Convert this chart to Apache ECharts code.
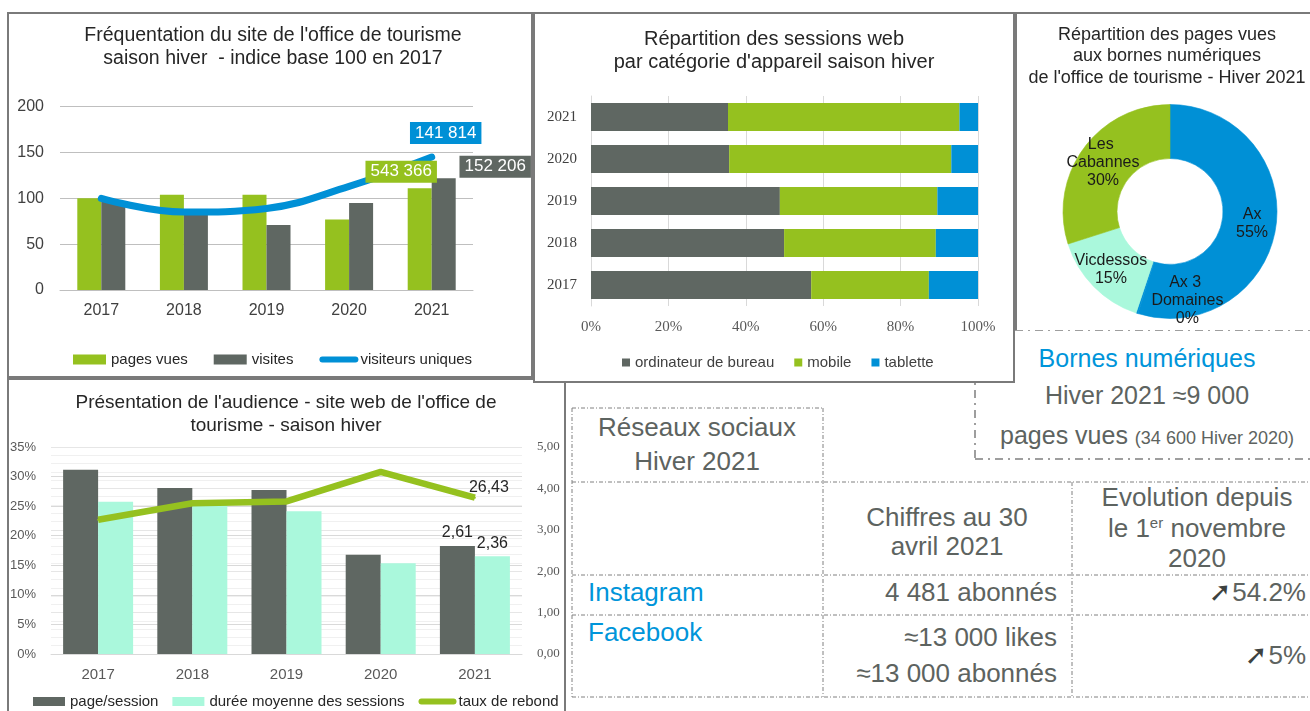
<!DOCTYPE html>
<html lang="fr">
<head>
<meta charset="utf-8">
<title>Office de tourisme - saison hiver 2021</title>
<script src="https://cdn.jsdelivr.net/npm/echarts@6/dist/echarts.min.js"></script>
<style>
  html, body { margin: 0; padding: 0; background: #fff; }
  body {
    width: 1310px; height: 711px; position: relative; overflow: hidden;
    font-family: 'Liberation Sans', Arial, sans-serif;
  }
  .panel { position: absolute; box-sizing: border-box; border: 2px solid #7a7a7a; background: #fff; }
  .chart { position: absolute; }
  .txt { position: absolute; color: #5d6360; font-size: 26px; white-space: nowrap; }
  .c { transform: translateX(-50%); text-align: center; }
  .blue { color: #0095da; }
  .arrow { font-family: 'DejaVu Sans', sans-serif; font-size: 27px; font-weight: bold; margin-right: 1px; color: #3d4240; }
  #lines { position: absolute; left: 0; top: 0; }
</style>
</head>
<body>

<svg id="lines" width="1310" height="711">
  <!-- bornes numériques : cadre tiret-point -->
  <g stroke="#7f7f7f" stroke-width="1.5" stroke-dasharray="8 5 2 5" fill="none">
    <line x1="975" y1="330" x2="1310" y2="330" />
    <line x1="975" y1="330" x2="975" y2="459" />
    <line x1="975" y1="459" x2="1310" y2="459" />
  </g>
  <!-- tableau réseaux sociaux -->
  <g stroke="#808080" stroke-width="1" stroke-dasharray="4 2 1 2" fill="none">
    <line x1="572" y1="408" x2="823" y2="408" />
    <line x1="572" y1="482" x2="1310" y2="482" />
    <line x1="572" y1="575" x2="1310" y2="575" />
    <line x1="572" y1="615" x2="1310" y2="615" />
    <line x1="572" y1="697" x2="1310" y2="697" />
    <line x1="572" y1="408" x2="572" y2="697" />
    <line x1="823" y1="408" x2="823" y2="697" />
    <line x1="1072" y1="482" x2="1072" y2="697" />
  </g>
</svg>

<div class="panel" style="left:7px;top:378px;width:559px;height:345px;"></div>
<div class="panel" style="left:7px;top:12px;width:526px;height:366px;"></div>
<div class="panel" style="left:1015px;top:12px;width:310px;height:318px;border-bottom:none;border-right:none;"></div>
<div class="panel" style="left:533px;top:12px;width:482px;height:371px;"></div>

<div id="freqChart" class="chart" style="left:7px;top:12px;width:526px;height:366px;"></div>
<div id="deviceChart" class="chart" style="left:533px;top:12px;width:482px;height:371px;"></div>
<div id="borneChart" class="chart" style="left:1015px;top:12px;width:295px;height:318px;"></div>
<div id="audienceChart" class="chart" style="left:7px;top:378px;width:559px;height:333px;"></div>

<!-- bornes numériques -->
<div class="txt c blue" style="left:1147px;top:343px;font-size:25px;line-height:30px;">Bornes numériques</div>
<div class="txt c" style="left:1147px;top:380px;font-size:25px;line-height:30px;">Hiver 2021 ≈9 000</div>
<div class="txt c" style="left:1147px;top:420px;font-size:25px;line-height:30px;">pages vues <span style="font-size:18px;">(34 600 Hiver 2020)</span></div>

<!-- réseaux sociaux -->
<div class="txt c" style="left:697px;top:410px;line-height:34px;">Réseaux sociaux<br>Hiver 2021</div>
<div class="txt c" style="left:947px;top:503px;line-height:29px;">Chiffres au 30<br>avril 2021</div>
<div class="txt c" style="left:1197px;top:482px;line-height:30.5px;">Evolution depuis<br>le 1<sup style="font-size:15px;vertical-align:9px;line-height:0;">er</sup> novembre<br>2020</div>
<div class="txt blue" style="left:588px;top:577px;line-height:30px;">Instagram</div>
<div class="txt blue" style="left:588px;top:617px;line-height:30px;">Facebook</div>
<div class="txt" style="right:253px;top:577px;line-height:30px;">4 481 abonnés</div>
<div class="txt" style="right:253px;top:622px;line-height:30px;">≈13 000 likes</div>
<div class="txt" style="right:253px;top:658px;line-height:30px;">≈13 000 abonnés</div>
<div class="txt" style="right:4px;top:577px;line-height:30px;"><span class="arrow">➚</span>54.2%</div>
<div class="txt" style="right:4px;top:640px;line-height:30px;"><span class="arrow">➚</span>5%</div>

<script>
// fréquentation du site, indice base 100 en 2017
const years = ['2017', '2018', '2019', '2020', '2021'];
const pagesVuesIdx = [100, 104, 104, 77, 111];
const visitesIdx = [97, 84, 71, 95, 122];
const visiteursIdx = [100, 85, 89, 113, 145];
const pagesVues2021 = '543 366';
const visites2021 = '152 206';
const visiteurs2021 = '141 814';

// répartition des sessions par appareil (%)
const desktopPct = [56.9, 49.9, 48.8, 35.7, 35.4];
const mobilePct = [30.4, 39.2, 40.7, 57.4, 59.8];
const tabletPct = [12.7, 10.9, 10.5, 6.9, 4.8];

// bornes numériques hiver 2021 (%), Ax 3 Domaines affiché 0% (moins de 0,5%)
const borneNames = ['Ax', 'Ax 3 Domaines', 'Vicdessos', 'Les Cabannes'];
const bornePct = [55, 0.3, 15, 30];

// audience du site web
const pageSession = [4.45, 4.01, 3.96, 2.40, 2.61];
const dureeMoyenne = [3.68, 3.60, 3.45, 2.19, 2.36];
const tauxRebond = [22.7, 25.5, 25.8, 30.8, 26.43];

const GREEN = '#95c11f';
const GREY = '#5f6762';
const BLUE = '#0090d6';
const MINT = '#aaf8dc';
const SANS = 'Liberation Sans';
const SERIF = 'Liberation Serif';
const last = years.length - 1;

const title = (x, y, text, size, lh) => ({
  type: 'text',
  x: x,
  y: y,
  style: {
    text: text,
    fill: '#262626',
    font: size + 'px "' + SANS + '"',
    lineHeight: lh,
    align: 'center',
    verticalAlign: 'top'
  }
});

const boxLabel = (text, bg, pos) => ({
  show: true,
  formatter: text,
  position: pos,
  align: 'center',
  verticalAlign: 'middle',
  backgroundColor: bg,
  color: '#fff',
  opacity: 1,
  fontFamily: SANS,
  fontSize: 17,
  padding: [3, 5, 2, 5]
});

const comma = v => v.toFixed(2).replace('.', ',');

// graphique 1 : fréquentation
const freqChart = echarts.init(document.getElementById('freqChart'));
freqChart.setOption({
  animation: false,
  graphic: [title(266, 12, "Fréquentation du site de l'office de tourisme\nsaison hiver  - indice base 100 en 2017", 19.5, 23)],
  grid: { left: 53, right: 60, top: 94.7, bottom: 88 },
  legend: {
    left: 66, top: 340, padding: 0,
    itemWidth: 33, itemHeight: 10, itemGap: 26,
    textStyle: { fontFamily: SANS, fontSize: 15, color: '#262626' },
    data: [
      { name: 'pages vues', icon: 'rect' },
      { name: 'visites', icon: 'rect' },
      { name: 'visiteurs uniques', itemStyle: { opacity: 0 }, lineStyle: { width: 6, cap: 'round' } }
    ]
  },
  xAxis: {
    type: 'category',
    data: years,
    axisTick: { show: false },
    axisLine: { lineStyle: { color: '#bfbfbf' } },
    axisLabel: { fontFamily: SANS, fontSize: 16, color: '#404040', margin: 13 }
  },
  yAxis: {
    type: 'value',
    min: 0, max: 200, interval: 50,
    axisLabel: { fontFamily: SANS, fontSize: 16, color: '#404040', margin: 16 },
    splitLine: { lineStyle: { color: '#bfbfbf' } }
  },
  series: [
    {
      name: 'pages vues', type: 'bar', barWidth: 24, barGap: '0%',
      itemStyle: { color: GREEN },
      data: pagesVuesIdx
    },
    {
      name: 'visites', type: 'bar', barWidth: 24,
      itemStyle: { color: GREY },
      data: visitesIdx
    },
    {
      name: 'visiteurs uniques', type: 'line', smooth: 0.4,
      symbol: 'circle', symbolSize: 2, z: 5,
      lineStyle: { color: BLUE, width: 7, cap: 'round' },
      itemStyle: { color: BLUE },
      data: visiteursIdx.map((v, i) => i === last
        ? { value: v, label: boxLabel(visiteurs2021, BLUE, [15, -23]) } : v)
    },
    {
      // étiquettes des barres 2021, posées au-dessus de la courbe
      name: 'etiquettes', type: 'scatter', z: 10,
      symbolSize: 1, itemStyle: { color: 'transparent', opacity: 1 },
      data: [
        { value: [years[last], pagesVuesIdx[last]], label: boxLabel(pagesVues2021, GREEN, [-30, -16]) },
        { value: [years[last], visitesIdx[last]], label: boxLabel(visites2021, GREY, [64, -11]) }
      ]
    }
  ]
});

// graphique 2 : sessions par appareil
const deviceChart = echarts.init(document.getElementById('deviceChart'));
const devSeries = (name, color, data) => ({
  name: name, type: 'bar', stack: 'total', barWidth: 28,
  itemStyle: { color: color }, data: data
});
deviceChart.setOption({
  animation: false,
  graphic: [title(241, 16, "Répartition des sessions web\npar catégorie d'appareil saison hiver", 20, 23)],
  grid: { left: 58, right: 37, top: 84, bottom: 77 },
  legend: {
    left: 89, top: 343, padding: 0,
    icon: 'rect', itemWidth: 8, itemHeight: 8, itemGap: 20,
    textStyle: { fontFamily: SANS, fontSize: 15, color: '#404040' }
  },
  xAxis: {
    type: 'value', min: 0, max: 100, interval: 20,
    axisLabel: { formatter: '{value}%', fontFamily: SERIF, fontSize: 15, color: '#595959', margin: 14 },
    splitLine: { lineStyle: { color: '#d9d9d9' } }
  },
  yAxis: {
    type: 'category', data: years,
    axisTick: { show: false },
    axisLine: { lineStyle: { color: '#d9d9d9' } },
    axisLabel: { fontFamily: SERIF, fontSize: 15, color: '#404040', margin: 14 }
  },
  series: [
    devSeries('ordinateur de bureau', GREY, desktopPct),
    devSeries('mobile', GREEN, mobilePct),
    devSeries('tablette', BLUE, tabletPct)
  ]
});

// graphique 3 : bornes numériques
const borneChart = echarts.init(document.getElementById('borneChart'));
const borneColors = [BLUE, BLUE, MINT, GREEN];
borneChart.setOption({
  animation: false,
  graphic: [title(152, 12, "Répartition des pages vues\naux bornes numériques\nde l'office de tourisme - Hiver 2021", 18, 21.5)],
  series: [{
    type: 'pie',
    center: [155, 199.5],
    radius: [53, 107],
    startAngle: 90,
    avoidLabelOverlap: false,
    minShowLabelAngle: 0,
    labelLayout: { hideOverlap: false },
    label: {
      show: true,
      position: 'inside',
      formatter: p => p.name + '\n' + Math.round(p.value) + '%',
      width: 76,
      overflow: 'break',
      fontFamily: SANS,
      fontSize: 16,
      lineHeight: 18,
      color: '#1a1a1a'
    },
    labelLine: { show: false },
    data: borneNames.map((n, i) => ({
      name: n,
      value: bornePct[i],
      itemStyle: { color: borneColors[i], borderColor: borneColors[i], borderWidth: 0.6 },
      label: i === 1 ? { show: true, offset: [43, 10] } : undefined
    }))
  }]
});

// graphique 4 : audience
const audienceChart = echarts.init(document.getElementById('audienceChart'));
const valueLabel = {
  show: true, position: 'top', formatter: p => comma(p.value),
  fontFamily: SANS, fontSize: 16, color: '#262626'
};
audienceChart.setOption({
  animation: false,
  graphic: [title(279, 14, "Présentation de l'audience - site web de l'office de\ntourisme - saison hiver", 19, 22.5)],
  grid: { left: 44, right: 44, top: 69, bottom: 57 },
  legend: {
    left: 26, top: 316, padding: 0, width: 533,
    itemWidth: 32, itemHeight: 9, itemGap: 14,
    textStyle: { fontFamily: SANS, fontSize: 15, color: '#262626' },
    data: [
      { name: 'page/session', icon: 'rect' },
      { name: 'durée moyenne des sessions', icon: 'rect' },
      { name: 'taux de rebond', itemStyle: { opacity: 0 }, lineStyle: { width: 6, cap: 'round' } }
    ]
  },
  xAxis: {
    type: 'category', data: years,
    axisTick: { show: false },
    axisLine: { lineStyle: { color: '#d9d9d9' } },
    axisLabel: { fontFamily: SANS, fontSize: 15, color: '#595959', margin: 13 }
  },
  yAxis: [
    {
      type: 'value', min: 0, max: 35, interval: 5,
      axisLabel: { formatter: '{value}%', fontFamily: SANS, fontSize: 13, color: '#595959', margin: 15 },
      splitLine: { lineStyle: { color: '#d9d9d9' } }
    },
    {
      type: 'value', min: 0, max: 5, interval: 1, position: 'right',
      axisLabel: { formatter: comma, fontFamily: SERIF, fontSize: 13, color: '#595959', margin: 15 },
      splitLine: { lineStyle: { color: '#e6e6e6' } },
      minorTick: { show: false, splitNumber: 5 },
      minorSplitLine: { show: true, lineStyle: { color: '#f0f0f0' } }
    }
  ],
  series: [
    {
      name: 'page/session', type: 'bar', yAxisIndex: 1, barWidth: 35, barGap: '0%',
      itemStyle: { color: GREY },
      data: pageSession.map((v, i) => i === last ? { value: v, label: valueLabel } : v)
    },
    {
      name: 'durée moyenne des sessions', type: 'bar', yAxisIndex: 1, barWidth: 35,
      itemStyle: { color: MINT },
      data: dureeMoyenne.map((v, i) => i === last ? { value: v, label: valueLabel } : v)
    },
    {
      name: 'taux de rebond', type: 'line', yAxisIndex: 0, z: 5,
      symbol: 'circle', symbolSize: 2,
      lineStyle: { color: GREEN, width: 6.5 },
      itemStyle: { color: GREEN },
      data: tauxRebond.map((v, i) => i === last
        ? { value: v, label: Object.assign({}, valueLabel, { position: [15, -9], align: 'center', verticalAlign: 'middle' }) } : v)
    }
  ]
});
</script>
</body>
</html>
